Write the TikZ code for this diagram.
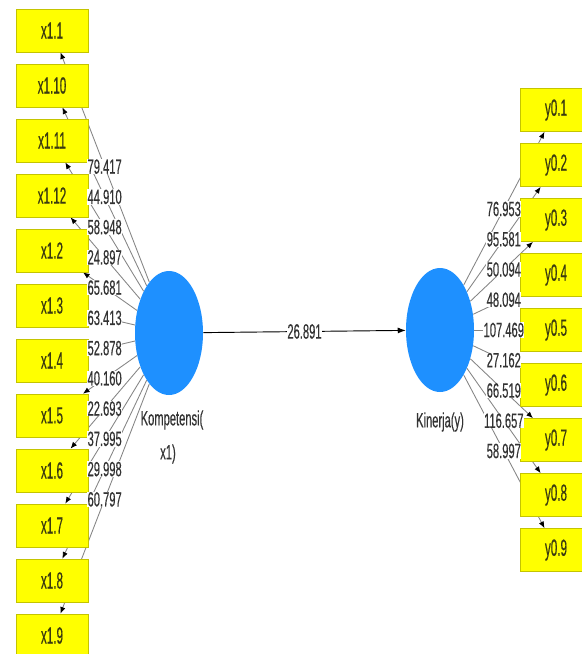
\documentclass[tikz,border=0pt]{standalone}
\usepackage{fontspec}
\setmainfont[FakeStretch=0.54,FakeBold=0.4]{Liberation Sans}
\newfontfamily\boxfont[FakeStretch=0.5,FakeBold=0.4]{Liberation Sans}
\usetikzlibrary{shapes.geometric,arrows.meta}
\pgfdeclarelayer{bg}
\pgfsetlayers{bg,main}
\definecolor{boxyellow}{HTML}{FFFF00}
\definecolor{boxborder}{HTML}{C4C400}
\definecolor{lvblue}{HTML}{1E90FF}
\definecolor{linegray}{HTML}{858585}
\definecolor{lbltext}{HTML}{333333}
\definecolor{boxtext}{HTML}{3A3A10}
\begin{document}
\begin{tikzpicture}[x=0.75pt,y=-0.75pt,
  box/.style={draw=boxborder, line width=0.5pt, fill=boxyellow, minimum width=54pt, minimum height=32.25pt, inner sep=0pt, text=boxtext, font=\boxfont\fontsize{17.5pt}{19pt}\selectfont},
  lv/.style={ellipse, fill=lvblue, minimum width=51pt, minimum height=93pt, inner sep=0pt},
  conn/.style={draw=linegray, line width=0.65pt, -{Latex[length=5pt,width=4pt,color=black]}},
  mainarr/.style={draw=black, line width=0.7pt, -{Latex[length=6pt,width=4.5pt]}},
  lbl/.style={fill=white, inner sep=0.3pt, text=lbltext, font=\fontsize{15.5pt}{18pt}\selectfont},
  txt/.style={inner sep=0pt, text=lbltext, font=\fontsize{15.5pt}{18pt}\selectfont}]
\useasboundingbox (0,0) rectangle (582,654);
\clip (0,0) rectangle (582,654);
% indicator boxes
\foreach \t [count=\i] in {x1.1,x1.10,x1.11,x1.12,x1.2,x1.3,x1.4,x1.5,x1.6,x1.7,x1.8,x1.9}
  \node[box] (L\i) at (52,{30.5+55*(\i-1)}) {\t};
\foreach \t [count=\i] in {y0.1,y0.2,y0.3,y0.4,y0.5,y0.6,y0.7,y0.8,y0.9}
  \node[box] (R\i) at (556,{110+55*(\i-1)}) {\t};
% latent variables
\node[lv] (K) at (169,333) {};
\node[lv] (Y) at (440,330) {};
% connectors
\begin{pgfonlayer}{bg}
\foreach \i in {1,...,12} \draw[conn] (K) -- (L\i);
\foreach \i in {1,...,9} \draw[conn] (Y) -- (R\i);
\end{pgfonlayer}
\draw[mainarr] (K) -- node[lbl] {26.891} (Y);
% loading labels
\foreach \v [count=\i] in {79.417,44.910,58.948,24.897,65.681,63.413,52.878,40.160,22.693,37.995,29.998,60.797}
  \path (K.center) -- node[lbl,pos=0.55] {\v} (L\i.center);
\foreach \v [count=\i] in {76.953,95.581,50.094,48.094,107.469,27.162,66.519,116.657,58.997}
  \path (Y.center) -- node[lbl,pos=0.55] {\v} (R\i.center);
% latent names
\node[txt] (kt1) at (172,420) {Kompetensi(};
\node[txt] (kt2) at (168,454) {x1)};
\node[txt] (yt) at (440,422) {Kinerja(y)};
\end{tikzpicture}
\end{document}
